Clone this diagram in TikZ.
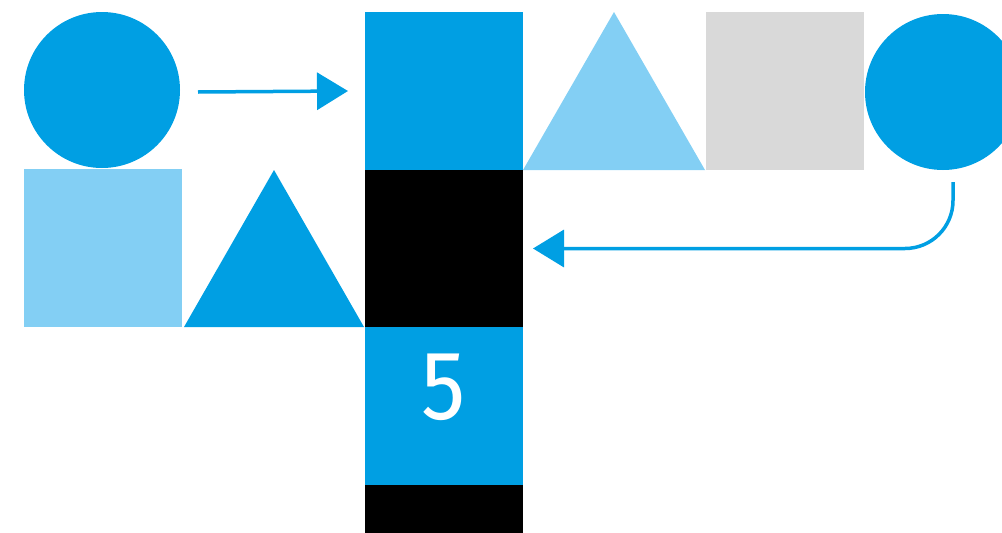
\documentclass[tikz,border=0pt]{standalone}
\usepackage{fontspec}
\setsansfont{Fira Sans}
\usetikzlibrary{arrows.meta}

\definecolor{cyanblue}{RGB}{0,159,227}
\definecolor{paleblue}{RGB}{131,207,244}
\definecolor{palegrey}{RGB}{217,217,217}

\begin{document}
\begin{tikzpicture}[x=1pt, y=-1pt,
		tile/.style = {inner sep = 0pt, outer sep = 0pt, minimum width = 158pt, minimum height = 158pt},
		disc/.style = {circle, inner sep = 0pt, outer sep = 0pt, minimum size = 156pt, fill = cyanblue},
		link/.style = {draw = cyanblue, line width = 3.5pt, -{Triangle[length = 31pt, width = 37pt]}}]
			\def\W{1002};
			\def\Hgt{533};
			
			\useasboundingbox (0,0) rectangle (\W,\Hgt);
			\clip (0,0) rectangle (\W,\Hgt);
			
			\node [disc] (left disc) at (102,90) {};
			\node [tile, fill = paleblue] (pale tile) at (103,248) {};
			\fill [cyanblue] (184,327) -- (364,327) -- (274,170) -- cycle;
			
			\node [tile, fill = cyanblue] (top tile) at (444,91) {};
			\node [tile, fill = black, minimum height = 157pt] (dark tile) at (444,248.5) {};
			\node [tile, fill = cyanblue] (number tile) at (444,406) {};
			\node [text = white, font = \sffamily\fontsize{98}{98}\selectfont, xscale = 0.9] (digit) at ([yshift = 19pt]number tile.center) {5};
			\node [tile, fill = black, minimum height = 60pt] (bottom bar) at (444,515) {};
			
			\fill [paleblue] (523,170) -- (705,170) -- (614,12) -- cycle;
			\node [tile, fill = palegrey] (grey tile) at (785,91) {};
			\node [disc] (right disc) at (943,92) {};
			
			\begin{scope}[link]
				\draw ([shift = {(18pt,-2pt)}]left disc.east) -- ([xshift = -17pt]top tile.west);
				\draw [rounded corners = 48pt] ([shift = {(10pt,-12pt)}]right disc.south) |- ([xshift = 10pt]dark tile.east);
			\end{scope}
		\end{tikzpicture}
\end{document}
